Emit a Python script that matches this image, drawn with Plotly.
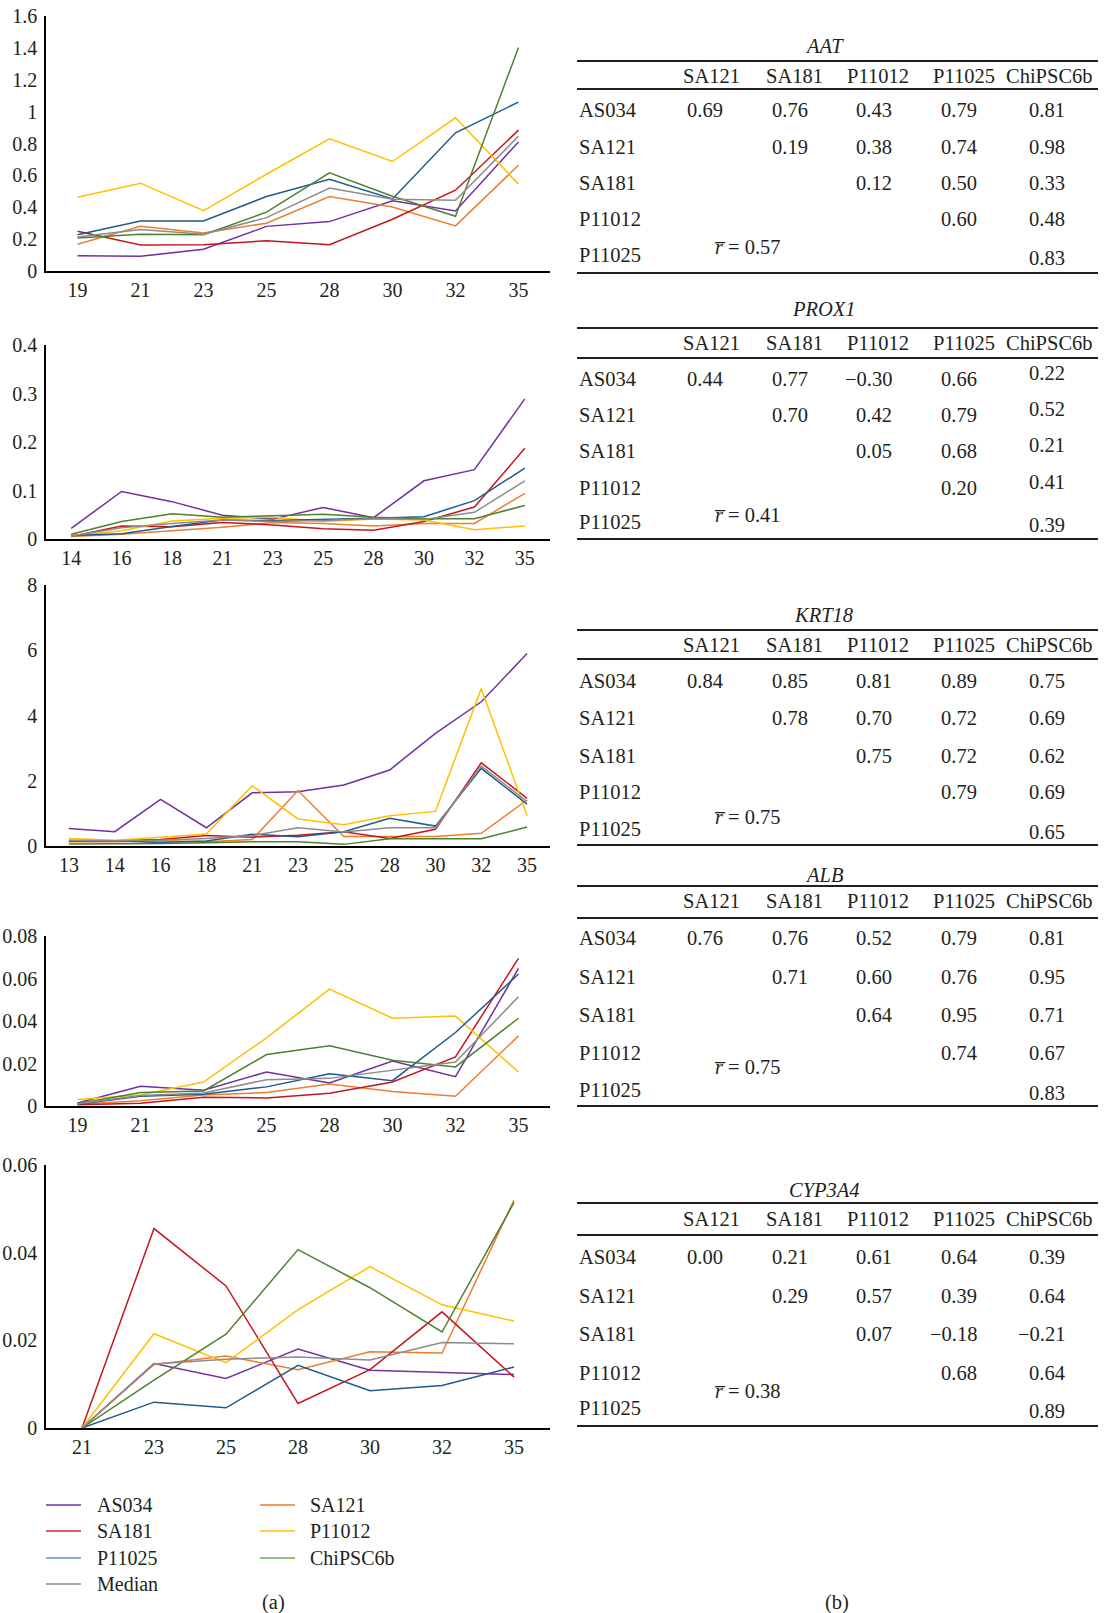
import plotly.graph_objects as go

W, H = 1106, 1613
FONT = "Liberation Serif"
TXT = "#231f20"

SERIES = ["AS034", "SA121", "SA181", "P11012", "P11025", "ChiPSC6b", "Median"]
LINE_COLORS = {
    "AS034": "#7030a0", "SA121": "#ed7d31", "SA181": "#c5161d",
    "P11012": "#ffc000", "P11025": "#1f5a8c", "ChiPSC6b": "#4f8030",
    "Median": "#8c8c8c",
}
LEGEND_COLORS = {
    "AS034": "#7030a0", "SA121": "#ed7d31", "SA181": "#d0262b",
    "P11012": "#ffc000", "P11025": "#5b8fd5", "ChiPSC6b": "#70ad47",
    "Median": "#8c8c8c",
}

# ---- expression time courses (relative expression by day) ----
AAT_DAYS = ["19", "21", "23", "25", "28", "30", "32", "35"]
AAT = {
    "AS034":    [0.096, 0.092, 0.136, 0.28, 0.31, 0.44, 0.377, 0.81],
    "SA121":    [0.168, 0.28, 0.239, 0.30, 0.467, 0.402, 0.283, 0.664],
    "SA181":    [0.25, 0.163, 0.165, 0.19, 0.165, 0.325, 0.507, 0.884],
    "P11012":   [0.463, 0.551, 0.379, 0.607, 0.829, 0.687, 0.961, 0.545],
    "P11025":   [0.228, 0.314, 0.314, 0.467, 0.576, 0.452, 0.867, 1.06],
    "ChiPSC6b": [0.207, 0.23, 0.228, 0.369, 0.616, 0.469, 0.343, 1.403],
    "Median":   [0.214, 0.26, 0.23, 0.335, 0.52, 0.45, 0.444, 0.846],
}

PROX1_DAYS = ["14", "16", "18", "21", "23", "25", "28", "30", "32", "35"]
PROX1 = {
    "AS034":    [0.022, 0.098, 0.077, 0.049, 0.041, 0.065, 0.044, 0.12, 0.143, 0.289],
    "SA121":    [0.005, 0.010, 0.017, 0.024, 0.034, 0.032, 0.027, 0.032, 0.032, 0.094],
    "SA181":    [0.005, 0.027, 0.025, 0.034, 0.029, 0.021, 0.018, 0.036, 0.066, 0.187],
    "P11012":   [0.006, 0.017, 0.037, 0.043, 0.045, 0.036, 0.041, 0.039, 0.019, 0.027],
    "P11025":   [0.007, 0.011, 0.026, 0.039, 0.038, 0.040, 0.043, 0.046, 0.079, 0.146],
    "ChiPSC6b": [0.010, 0.036, 0.052, 0.045, 0.048, 0.051, 0.045, 0.042, 0.042, 0.069],
    "Median":   [0.006, 0.023, 0.032, 0.039, 0.036, 0.038, 0.042, 0.040, 0.055, 0.120],
}

KRT18_DAYS = ["13", "14", "16", "18", "21", "23", "25", "28", "30", "32", "35"]
KRT18 = {
    "AS034":    [0.54, 0.44, 1.43, 0.56, 1.63, 1.66, 1.87, 2.33, 3.45, 4.42, 5.90],
    "SA121":    [0.13, 0.13, 0.16, 0.13, 0.20, 1.70, 0.29, 0.29, 0.29, 0.39, 1.41],
    "SA181":    [0.16, 0.16, 0.20, 0.32, 0.27, 0.33, 0.44, 0.23, 0.51, 2.55, 1.46],
    "P11012":   [0.23, 0.18, 0.27, 0.37, 1.85, 0.83, 0.65, 0.93, 1.06, 4.83, 0.93],
    "P11025":   [0.16, 0.16, 0.11, 0.15, 0.36, 0.28, 0.44, 0.85, 0.61, 2.38, 1.28],
    "ChiPSC6b": [0.06, 0.06, 0.08, 0.10, 0.13, 0.13, 0.05, 0.22, 0.22, 0.22, 0.58],
    "Median":   [0.18, 0.16, 0.18, 0.23, 0.32, 0.56, 0.43, 0.56, 0.56, 2.45, 1.36],
}

ALB_DAYS = ["19", "21", "23", "25", "28", "30", "32", "35"]
ALB = {
    "AS034":    [0.0014, 0.0093, 0.0074, 0.0160, 0.0108, 0.0212, 0.0138, 0.0648],
    "SA121":    [0.0008, 0.0025, 0.0052, 0.0063, 0.0104, 0.0068, 0.0046, 0.0330],
    "SA181":    [0.0006, 0.0013, 0.0041, 0.0038, 0.0060, 0.0113, 0.0231, 0.0695],
    "P11012":   [0.0031, 0.0052, 0.0113, 0.0321, 0.0550, 0.0413, 0.0423, 0.0160],
    "P11025":   [0.0008, 0.0046, 0.0055, 0.0090, 0.0152, 0.0119, 0.0346, 0.0621],
    "ChiPSC6b": [0.0011, 0.0064, 0.0071, 0.0242, 0.0284, 0.0215, 0.0184, 0.0413],
    "Median":   [0.0011, 0.0049, 0.0061, 0.0124, 0.0130, 0.0168, 0.0207, 0.0514],
}

CYP3A4_DAYS = ["21", "23", "25", "28", "30", "32", "35"]
CYP3A4 = {
    "AS034":    [0.0, 0.0147, 0.0113, 0.0180, 0.0132, 0.0127, 0.0122],
    "SA121":    [0.0, 0.0145, 0.0164, 0.0133, 0.0174, 0.0171, 0.0520],
    "SA181":    [0.0, 0.0455, 0.0324, 0.0056, 0.0133, 0.0265, 0.0116],
    "P11012":   [0.0, 0.0215, 0.0149, 0.0270, 0.0368, 0.0281, 0.0244],
    "P11025":   [0.0, 0.0059, 0.0046, 0.0143, 0.0085, 0.0097, 0.0139],
    "ChiPSC6b": [0.0, 0.0109, 0.0214, 0.0407, 0.0320, 0.0219, 0.0514],
    "Median":   [0.0, 0.0146, 0.0157, 0.0162, 0.0155, 0.0195, 0.0192],
}

# ---- pairwise correlation tables ----
TABLE_COLS = ["SA121", "SA181", "P11012", "P11025", "ChiPSC6b"]
TABLE_ROWS = ["AS034", "SA121", "SA181", "P11012", "P11025"]

AAT_R = [["0.69", "0.76", "0.43", "0.79", "0.81"],
         ["0.19", "0.38", "0.74", "0.98"],
         ["0.12", "0.50", "0.33"],
         ["0.60", "0.48"],
         ["0.83"]]
AAT_RBAR = "0.57"
PROX1_R = [["0.44", "0.77", "\u22120.30", "0.66", "0.22"],
           ["0.70", "0.42", "0.79", "0.52"],
           ["0.05", "0.68", "0.21"],
           ["0.20", "0.41"],
           ["0.39"]]
PROX1_RBAR = "0.41"
KRT18_R = [["0.84", "0.85", "0.81", "0.89", "0.75"],
           ["0.78", "0.70", "0.72", "0.69"],
           ["0.75", "0.72", "0.62"],
           ["0.79", "0.69"],
           ["0.65"]]
KRT18_RBAR = "0.75"
ALB_R = [["0.76", "0.76", "0.52", "0.79", "0.81"],
         ["0.71", "0.60", "0.76", "0.95"],
         ["0.64", "0.95", "0.71"],
         ["0.74", "0.67"],
         ["0.83"]]
ALB_RBAR = "0.75"
CYP3A4_R = [["0.00", "0.21", "0.61", "0.64", "0.39"],
            ["0.29", "0.57", "0.39", "0.64"],
            ["0.07", "\u22120.18", "\u22120.21"],
            ["0.68", "0.64"],
            ["0.89"]]
CYP3A4_RBAR = "0.38"


def px(x):
    return x / W


def py(y):
    return 1 - y / H


fig = go.Figure()

# panel (a): line charts  (days, data, y max, y step, pixel top, pixel bottom)
panels = [
    (AAT_DAYS, AAT, 1.6, 0.2, 16, 271),
    (PROX1_DAYS, PROX1, 0.4, 0.1, 345, 539),
    (KRT18_DAYS, KRT18, 8, 2, 585, 846),
    (ALB_DAYS, ALB, 0.08, 0.02, 936, 1106),
    (CYP3A4_DAYS, CYP3A4, 0.06, 0.02, 1165, 1428),
]
X_LEFT, X_RIGHT = 46, 550

for i, (days, data, ymax, step, top, bot) in enumerate(panels, start=1):
    xa = "x" if i == 1 else f"x{i}"
    ya = "y" if i == 1 else f"y{i}"
    for name in SERIES:
        fig.add_trace(go.Scatter(
            x=days, y=data[name], mode="lines", name=name,
            line=dict(color=LINE_COLORS[name], width=1.5),
            xaxis=xa, yaxis=ya, showlegend=False, hoverinfo="skip",
        ))
    n_ticks = int(round(ymax / step))
    tv = [round(k * step, 6) for k in range(n_ticks + 1)]
    tt = [f"{v:g}" for v in tv]
    axis_font = dict(family=FONT, size=20, color=TXT)
    fig.layout[f"xaxis{'' if i == 1 else i}"] = dict(
        domain=[px(X_LEFT), px(X_RIGHT)], anchor=ya, type="category",
        range=[-0.5, len(days) - 0.5], showline=True, linecolor="#000",
        linewidth=1.5, showgrid=False, zeroline=False, ticks="",
        tickfont=axis_font, fixedrange=True, ticklabelstandoff=0,
        automargin=False,
    )
    fig.layout[f"yaxis{'' if i == 1 else i}"] = dict(
        domain=[py(bot), py(top)], anchor=xa, range=[0, ymax],
        showline=True, linecolor="#000", linewidth=1.5, showgrid=False,
        zeroline=False, ticks="", tickvals=tv, ticktext=tt,
        tickfont=axis_font, fixedrange=True, ticklabelstandoff=3,
        automargin=False,
    )

annotations = []
shapes = []

# legend for panel (a)
legend_col1 = ["AS034", "SA181", "P11025", "Median"]
legend_col2 = ["SA121", "P11012", "ChiPSC6b"]
legend_rows = [1505, 1531, 1558, 1584]
for col, (x0, x1, xt) in zip([legend_col1, legend_col2],
                             [(46, 81, 95), (260, 295, 308)]):
    for name, yy in zip(col, legend_rows):
        shapes.append(dict(type="line", xref="paper", yref="paper",
                           x0=px(x0), x1=px(x1), y0=py(yy), y1=py(yy),
                           line=dict(color=LEGEND_COLORS[name], width=1.5)))
        annotations.append(dict(text=name, x=px(xt), y=py(yy), xref="paper",
                                yref="paper", xanchor="left", yanchor="middle",
                                showarrow=False,
                                font=dict(family=FONT, size=20, color=TXT)))

# panel (b): correlation tables
# (gene, values, r-bar, title y, top rule, header y, header rule, row ys,
#  r-bar y, bottom rule, shift of the last column)
tables = [
    ("AAT", AAT_R, AAT_RBAR, 46, 61, 76, 89, [110, 147, 183, 219, 255], 247, 273, 0),
    ("PROX1", PROX1_R, PROX1_RBAR, 309, 328, 343, 358, [379, 415, 451, 488, 522], 515, 539, -6),
    ("KRT18", KRT18_R, KRT18_RBAR, 615, 630, 645, 659, [681, 718, 756, 792, 829], 817, 845, 0),
    ("ALB", ALB_R, ALB_RBAR, 875, 886, 901, 918, [938, 977, 1015, 1053, 1090], 1067, 1106, 0),
    ("CYP3A4", CYP3A4_R, CYP3A4_RBAR, 1190, 1203, 1219, 1235, [1257, 1296, 1334, 1373, 1408], 1391, 1426, 0),
]
T_LEFT, T_RIGHT = 577, 1098
HEADER_X = [711, 794, 878, 964, 1049]
VALUE_RIGHT = [725, 810, 894, 979, 1067]
tfont = dict(family=FONT, size=20.5, color=TXT)


def label(text, x, y, anchor="center", font=tfont):
    annotations.append(dict(text=text, x=px(x), y=py(y), xref="paper",
                            yref="paper", xanchor=anchor, yanchor="middle",
                            showarrow=False, font=font))


def rule(y, width=1.8):
    shapes.append(dict(type="line", xref="paper", yref="paper",
                       x0=px(T_LEFT), x1=px(T_RIGHT), y0=py(y), y1=py(y),
                       line=dict(color="#231f20", width=width)))


for gene, vals, rbar, ty, r0, hy, r1, rys, rby, r2, shift5 in tables:
    label(f"<i>{gene}</i>", 824, ty)
    rule(r0)
    rule(r1)
    rule(r2)
    for name, hx in zip(TABLE_COLS, HEADER_X):
        label(name, hx, hy)
    for ri, (rname, ry) in enumerate(zip(TABLE_ROWS, rys)):
        label(rname, T_LEFT, ry, anchor="left")
        for ci, v in enumerate(vals[ri]):
            col = ri + ci
            dy = 3 if ri == 4 else 0
            if col == 4 and ri < 4:
                dy += shift5
            label(v, VALUE_RIGHT[col], ry + dy, anchor="right")
    label(f"<i>r\u0305</i> = {rbar}", 747, rby)

label("(a)", 273, 1602)
label("(b)", 837, 1602)

fig.update_layout(
    width=W, height=H,
    margin=dict(l=0, r=0, t=0, b=0, pad=0, autoexpand=False),
    paper_bgcolor="white", plot_bgcolor="white",
    showlegend=False, annotations=annotations, shapes=shapes,
    font=dict(family=FONT, color=TXT),
)

fig.write_html("out.html")
